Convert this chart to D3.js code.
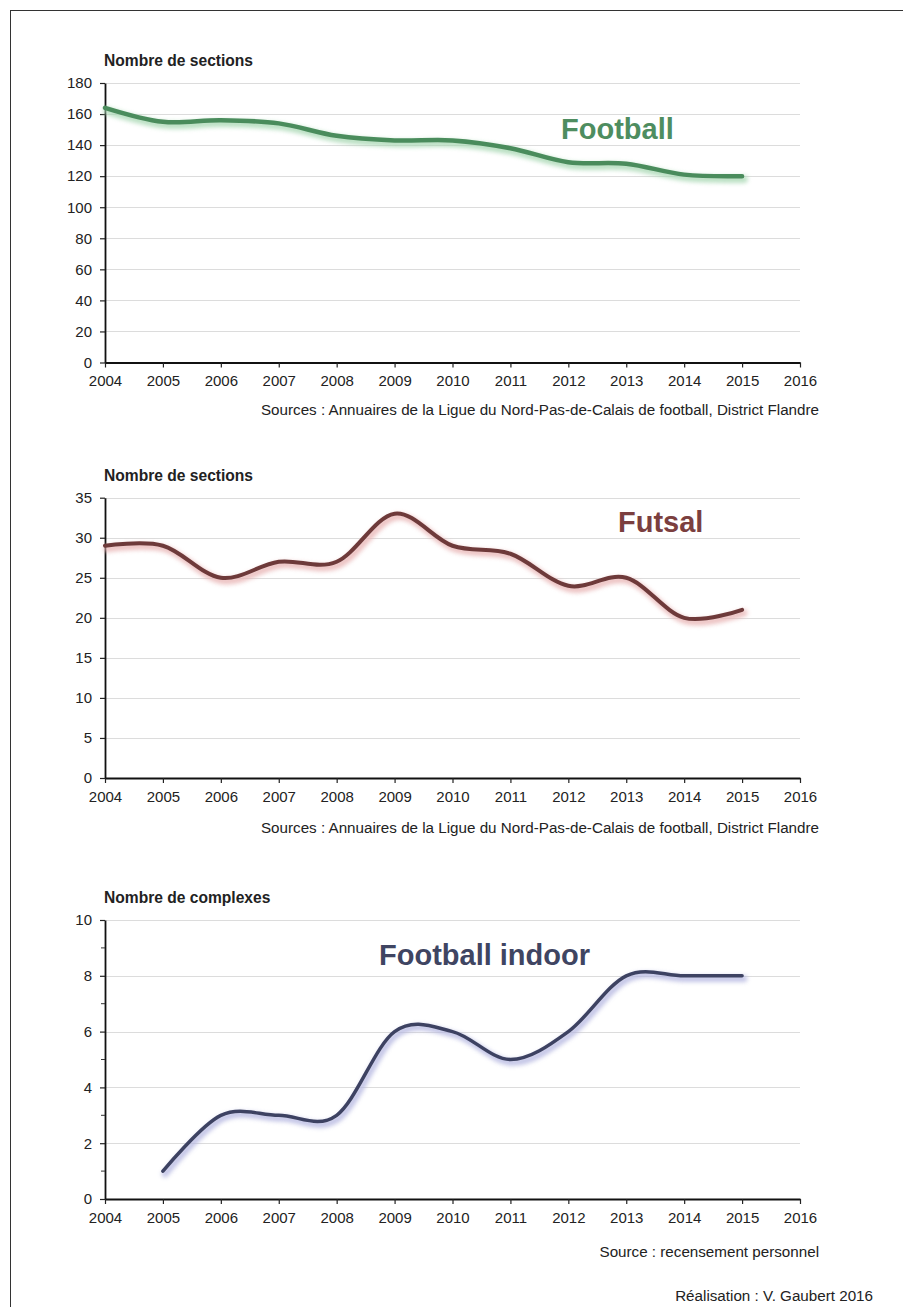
<!DOCTYPE html>
<html><head><meta charset="utf-8">
<script src="https://cdn.jsdelivr.net/npm/d3@7"></script>
<style>
html,body{margin:0;padding:0;background:#fff;}
svg{display:block;font-family:"Liberation Sans",Arial,sans-serif;}
</style></head>
<body>
<svg id="c" width="903" height="1307"></svg>
<script>
// ---- data ----
const years = [2004,2005,2006,2007,2008,2009,2010,2011,2012,2013,2014,2015];
const football = [164,155,156,154,146,143,143,138,129,128,121,120];
const futsal = [29,29,25,27,27,33,29,28,24,25,20,21];
const indoorYears = [2005,2006,2007,2008,2009,2010,2011,2012,2013,2014,2015];
const indoor = [1,3,3,3,6,6,5,6,8,8,8];
const xTicks = [2004,2005,2006,2007,2008,2009,2010,2011,2012,2013,2014,2015,2016];
const footballTicks = [0,20,40,60,80,100,120,140,160,180];
const futsalTicks = [0,5,10,15,20,25,30,35];
const indoorTicks = [0,2,4,6,8,10];
const indoorMinor = [1,3,5,7,9];

const svg = d3.select('#c');
svg.append('rect').attr('x',10.5).attr('y',10.5).attr('width',1000).attr('height',1400)
  .attr('fill','none').attr('stroke','#333').attr('stroke-width',1);

const defs = svg.append('defs');
defs.append('filter').attr('id','blur').attr('x','-10%').attr('y','-50%').attr('width','120%').attr('height','200%')
  .append('feGaussianBlur').attr('stdDeviation',2);

const x = d3.scaleLinear().domain([2004,2016]).range([105,800]);

function chart(cfg){
  const y = d3.scaleLinear().domain(cfg.domain).range(cfg.yRange);
  const g = svg.append('g');
  g.selectAll('line.grid').data(cfg.ticks.filter(t=>t!==cfg.domain[0])).enter().append('line')
    .attr('x1',x(2004)).attr('x2',x(2016)).attr('y1',d=>Math.round(y(d))+0.5).attr('y2',d=>Math.round(y(d))+0.5)
    .attr('stroke','#dcdcdc').attr('stroke-width',1.2);
  const ya = g.append('g').attr('transform',`translate(${x(2004)},0)`)
    .call(d3.axisLeft(y).tickValues(cfg.ticks).tickSize(5).tickPadding(8).tickSizeOuter(0));
  if(cfg.minor){
    g.append('g').attr('transform',`translate(${x(2004)},0)`)
      .selectAll('line').data(cfg.minor).enter().append('line')
      .attr('x1',-4).attr('x2',0).attr('y1',d=>y(d)).attr('y2',d=>y(d)).attr('stroke','#333').attr('stroke-width',1);
  }
  const xa = g.append('g').attr('transform',`translate(0,${y(cfg.domain[0])})`)
    .call(d3.axisBottom(x).tickValues(xTicks).tickFormat(d3.format('d')).tickSize(5).tickPadding(8).tickSizeOuter(0));
  [ya,xa].forEach(a=>{
    a.attr('font-size',15);
    a.selectAll('.domain').attr('stroke','#111').attr('stroke-width',1.8);
    a.selectAll('.tick line').attr('stroke','#222').attr('stroke-width',1.2);
    a.selectAll('.tick text').attr('font-size',15).attr('fill','#222')
      .attr('font-family','"Liberation Sans",Arial,sans-serif');
  });
  g.append('text').attr('x',104).attr('y',cfg.titleY).text(cfg.title)
    .attr('font-size',15.6).attr('font-weight','bold').attr('fill','#222');
  const line = d3.line().x(d=>x(d[0])).y(d=>y(d[1])).curve(d3.curveCardinal.tension(0));
  const pts = cfg.xs.map((v,i)=>[v,cfg.vals[i]]);
  g.append('path').datum(pts).attr('d',line).attr('fill','none')
    .attr('stroke',cfg.shadow).attr('stroke-width',cfg.sw+3).attr('stroke-linecap','round')
    .attr('transform','translate(2,3)').attr('filter','url(#blur)').attr('opacity',0.8);
  g.append('path').datum(pts).attr('d',line).attr('fill','none')
    .attr('stroke',cfg.color).attr('stroke-width',cfg.sw).attr('stroke-linecap','round').attr('stroke-linejoin','round');
  g.append('text').attr('x',cfg.labelX).attr('y',cfg.labelY).text(cfg.label)
    .attr('font-size',29).attr('font-weight','bold').attr('fill',cfg.labelColor);
  g.append('text').attr('x',819).attr('y',cfg.srcY).attr('text-anchor','end').text(cfg.src)
    .attr('font-size',15.2).attr('fill','#222');
}

chart({domain:[0,180], yRange:[362.5,83], ticks:footballTicks, title:'Nombre de sections', titleY:66,
  xs:years, vals:football, color:'#4a8c5c', shadow:'#a9d8b4', sw:4.5,
  label:'Football', labelX:561, labelY:139, labelColor:'#4e8d60',
  src:'Sources : Annuaires de la Ligue du Nord-Pas-de-Calais de football, District Flandre', srcY:415});

chart({domain:[0,35], yRange:[778,497.7], ticks:futsalTicks, title:'Nombre de sections', titleY:481,
  xs:years, vals:futsal, color:'#6e3a3a', shadow:'#e8b4b4', sw:4,
  label:'Futsal', labelX:618, labelY:532, labelColor:'#7b3f3f',
  src:'Sources : Annuaires de la Ligue du Nord-Pas-de-Calais de football, District Flandre', srcY:833});

chart({domain:[0,10], yRange:[1199,920], ticks:indoorTicks, minor:indoorMinor, title:'Nombre de complexes', titleY:903,
  xs:indoorYears, vals:indoor, color:'#3d4262', shadow:'#b4b6e0', sw:3.5,
  label:'Football indoor', labelX:379, labelY:965, labelColor:'#3f4562',
  src:'Source : recensement personnel', srcY:1257});

svg.append('text').attr('x',873).attr('y',1301).attr('text-anchor','end').text('Réalisation : V. Gaubert 2016')
  .attr('font-size',15.2).attr('fill','#222');
</script>
</body></html>
